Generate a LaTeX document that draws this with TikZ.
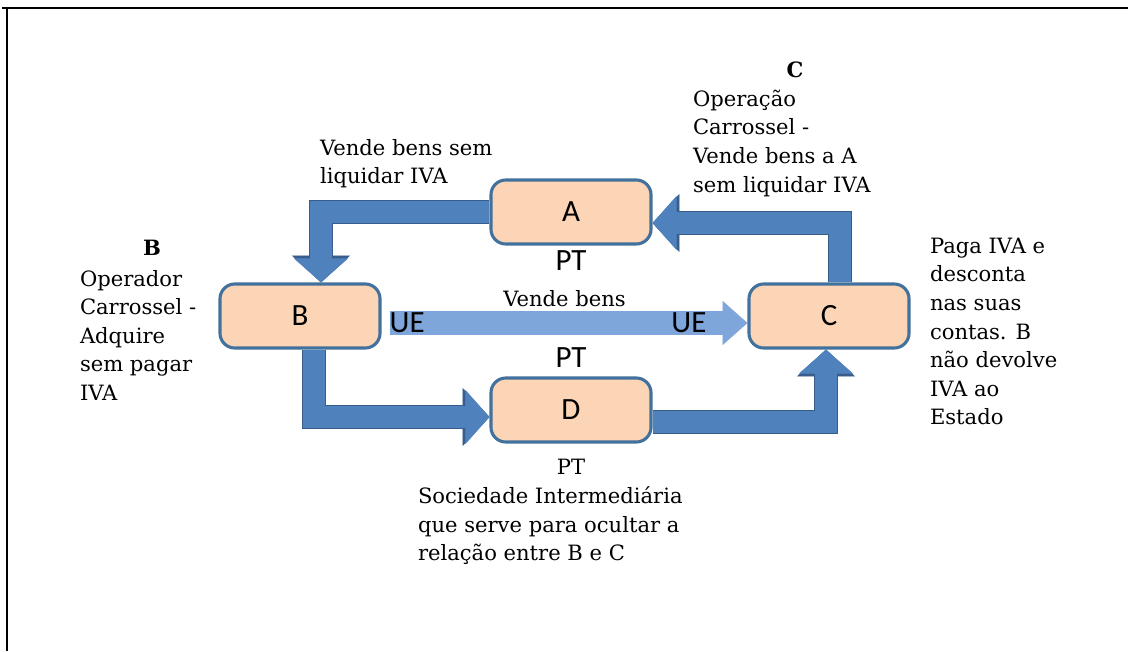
\documentclass[tikz,border=0pt]{standalone}
\usepackage{fontspec}
\setmainfont{DejaVu Serif}
\newfontfamily\boxfont{Carlito}
\usetikzlibrary{arrows.meta, backgrounds, calc, positioning}
\definecolor{boxfill}{HTML}{FBD5B5}
\definecolor{boxedge}{HTML}{41719C}
\definecolor{flowfill}{HTML}{4F81BD}
\definecolor{flowedge}{HTML}{385D8A}
\definecolor{crossfill}{HTML}{7FA6DA}
\tikzstyle{firm}=[draw=boxedge, line width=2.2pt, fill=boxfill, rounded corners=0.37cm, minimum width=4cm, minimum height=1.6cm, font=\boxfont\fontsize{22}{24}\selectfont]
\tikzstyle{tag}=[font=\boxfont\fontsize{22}{24}\selectfont, inner sep=0pt, outer sep=0pt]
\tikzstyle{note}=[font=\fontsize{15}{20.3}\selectfont, align=left, inner sep=0pt, outer sep=0pt]
\tikzstyle{head}=[note, font=\fontsize{15}{20.3}\selectfont\bfseries]
\tikzstyle{flow}=[draw=flowfill, line width=0.55cm, -{Triangle[width=1.35cm, length=0.6cm, line width=0.4pt]},
  preaction={draw=flowedge, line width=0.62cm, -{Triangle[width=1.45cm, length=0.67cm, line width=0.4pt]}}]
\tikzstyle{cross}=[draw=crossfill, line width=0.6cm, shorten <=0.22cm, -{Triangle[width=1.1cm, length=0.62cm, line width=0.4pt]}]

\begin{document}
\begin{tikzpicture}[x=0.025cm, y=-0.025cm]
  \useasboundingbox (0,0) rectangle (1128,651);
  % frame
  \draw[line width=2.1pt] (2,8) -- (1128,8);
  \draw[line width=2.1pt] (7,7) -- (7,651);

  \node[firm] (A) at (571,212) {A};
  \node[firm] (B) at (300,316) {B};
  \node[firm] (C) at (829,316) {C};
  \node[firm] (D) at (571,410) {D};

  \begin{scope}[on background layer]
    \draw[flow] (A.west) -| ($(B.north)+(21,0)$);
    \draw[flow] ($(C.north)+(11,0)$) |- ($(A.east)+(0,11)$);
    \draw[flow] ($(B.south)+(14,0)$) |- ($(D.west)+(0,7)$);
    \draw[flow] ($(D.east)+(0,12)$) -| ($(C.south)+(-3,0)$);
  \end{scope}
  \draw[cross] ($(B.east)+(0,7)$) -- ($(C.west)+(0,7)$)
    node[tag, pos=0.07] {UE} node[tag, pos=0.84] {UE}
    node[note, midway, above=0.4cm] {Vende bens};

  \node[tag, below=0.12cm of A] (Apt) {PT};
  \node[tag, above=0.22cm of D] (Dpt) {PT};

  \node[note, anchor=north west] (Anote) at (320,139) {Vende bens sem\\liquidar IVA};
  \node[head] (Chead) at (795,70) {C};
  \node[note, anchor=north west] (Cnote) at (693,90) {Operação\\Carrossel -\\Vende bens a A\\sem liquidar IVA};
  \node[head] (Bhead) at (152,248) {B};
  \node[note, anchor=north west] (Bnote) at (80,270) {Operador\\Carrossel -\\Adquire\\sem pagar\\IVA};
  \node[note, anchor=north west] (Cpay) at (930,238) {Paga IVA e\\desconta\\nas suas\\contas. B\\não devolve\\IVA ao\\Estado};
  \node[note] (Dlabel) at (571,467) {PT};
  \node[note, anchor=north west] (Dnote) at (418,487) {Sociedade Intermediária\\que serve para ocultar a\\relação entre B e C};
\end{tikzpicture}
\end{document}
